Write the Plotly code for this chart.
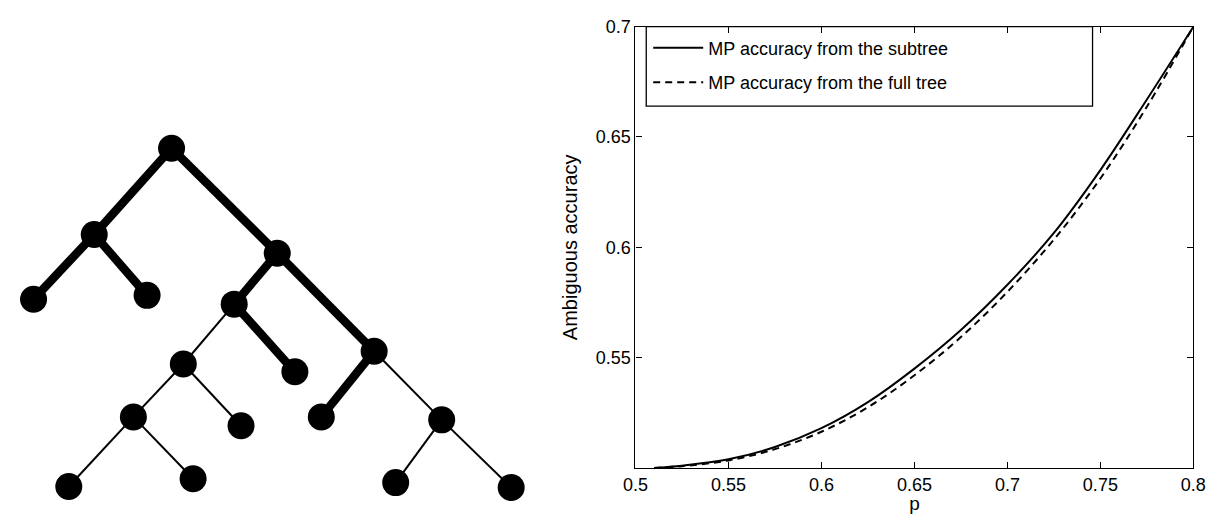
import plotly.graph_objects as go

# ---------------- data ----------------
# Tree diagram (left panel): node positions in the diagram's own coordinate frame
node_x = [162, 83, 21, 137, 270, 226, 369, 174, 288, 123, 233, 315, 438, 57, 184, 391, 509]
node_y = [141, 229, 295, 291, 248, 300, 348, 361, 369, 415, 424, 415, 418, 486, 478, 482, 487]
thick_edges = [(0, 1), (0, 4), (1, 2), (1, 3), (4, 5), (4, 6), (5, 8), (6, 11)]
thin_edges = [(5, 7), (7, 9), (7, 10), (9, 13), (9, 14), (6, 12), (12, 15), (12, 16)]

# Accuracy curves (right panel)
p_vals = [0.51, 0.525, 0.55, 0.575, 0.60, 0.625, 0.65, 0.675, 0.70, 0.725, 0.75, 0.775, 0.80]
acc_subtree = [0.5000, 0.5010, 0.5039, 0.5095, 0.5180, 0.5298, 0.5450, 0.5625, 0.5830,
               0.6065, 0.6350, 0.6670, 0.7000]
acc_fulltree = [0.5000, 0.5008, 0.5034, 0.5085, 0.5164, 0.5275, 0.5420, 0.5593, 0.5798,
                0.6035, 0.6312, 0.6637, 0.7000]
series_names = ["MP accuracy from the subtree", "MP accuracy from the full tree"]

x_ticks = [0.5, 0.55, 0.6, 0.65, 0.7, 0.75, 0.8]
x_ticklabels = ["0.5", "0.55", "0.6", "0.65", "0.7", "0.75", "0.8"]
y_ticks = [0.55, 0.6, 0.65, 0.7]
y_ticklabels = ["0.55", "0.6", "0.65", "0.7"]

# ---------------- figure ----------------
W, H = 1223, 514
FONT = "Liberation Sans, Arial, Helvetica, sans-serif"

fig = go.Figure()


def edge_xy(edges):
    xs, ys = [], []
    for a, b in edges:
        xs += [node_x[a], node_x[b], None]
        ys += [node_y[a], node_y[b], None]
    return xs, ys


tx, ty = edge_xy(thick_edges)
fig.add_trace(go.Scatter(x=tx, y=ty, mode="lines", line=dict(color="black", width=8.5),
                         xaxis="x2", yaxis="y2", showlegend=False, hoverinfo="skip"))
nx_, ny_ = edge_xy(thin_edges)
fig.add_trace(go.Scatter(x=nx_, y=ny_, mode="lines", line=dict(color="black", width=2),
                         xaxis="x2", yaxis="y2", showlegend=False, hoverinfo="skip"))
fig.add_trace(go.Scatter(x=node_x, y=node_y, mode="markers",
                         marker=dict(color="black", size=27, line=dict(width=0)),
                         xaxis="x2", yaxis="y2", showlegend=False, cliponaxis=False))

fig.add_trace(go.Scatter(x=p_vals, y=acc_subtree, mode="lines", name=series_names[0],
                         line=dict(color="black", width=2, shape="spline"),
                         legendgroup="a"))
fig.add_trace(go.Scatter(x=p_vals, y=acc_fulltree, mode="lines", name=series_names[1],
                         line=dict(color="black", width=2, dash="7px,5px", shape="spline"),
                         legendgroup="b"))

ax_l, ax_r, ax_t, ax_b = 636, 1206, 17, 467

axis_common = dict(showline=True, mirror="ticks", linecolor="black", linewidth=1.3,
                   ticks="inside", ticklen=6, tickwidth=1, tickcolor="black",
                   showgrid=False, zeroline=False,
                   tickfont=dict(family=FONT, size=18, color="black"))

fig.update_layout(
    width=W, height=H,
    margin=dict(l=0, r=0, t=0, b=0),
    paper_bgcolor="white", plot_bgcolor="white",
    font=dict(family=FONT, size=18, color="black"),
    xaxis=dict(domain=[ax_l / W, ax_r / W], range=[0.5, 0.8],
               tickvals=x_ticks, ticktext=x_ticklabels,
               title=dict(text="p", font=dict(family=FONT, size=19), standoff=0),
               anchor="y", **axis_common),
    yaxis=dict(domain=[1 - ax_b / H, 1 - ax_t / H], range=[0.5, 0.7],
               tickvals=y_ticks, ticktext=y_ticklabels,
               title=dict(text="Ambiguous accuracy", font=dict(family=FONT, size=20), standoff=12),
               anchor="x", **axis_common),
    xaxis2=dict(domain=[0, 530 / W], range=[0, 530], visible=False, anchor="y2"),
    yaxis2=dict(domain=[0, 1], range=[H, 0], visible=False, anchor="x2"),
    showlegend=True,
    legend=dict(x=649 / W, y=1 - 20 / H, xanchor="left", yanchor="top",
                bgcolor="rgba(0,0,0,0)", borderwidth=0, tracegroupgap=8,
                itemwidth=50,
                font=dict(family=FONT, size=18, color="black")),
    shapes=[dict(type="rect", xref="paper", yref="paper",
                 x0=647 / W, x1=1103 / W, y0=1 - 98 / H, y1=1 - ax_t / H,
                 line=dict(color="black", width=1.3), fillcolor="rgba(0,0,0,0)",
                 layer="above")],
)

fig.write_html("out.html", config={"displayModeBar": False},
               post_script="document.body.style.margin='0px';")
